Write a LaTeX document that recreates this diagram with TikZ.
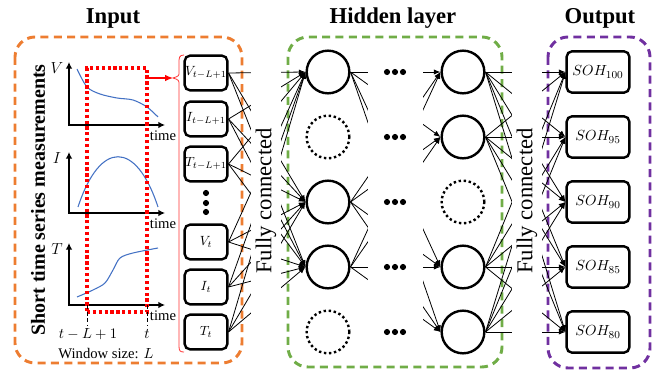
\documentclass[tikz,border=0pt]{standalone}
\usepackage{amsmath}
\usepackage{fontspec}
\setmainfont{Liberation Serif}
\usetikzlibrary{arrows.meta, positioning, calc}
\definecolor{frameorange}{RGB}{237,125,49}
\definecolor{framegreen}{RGB}{112,173,71}
\definecolor{framepurple}{RGB}{112,48,160}
\definecolor{curveblue}{RGB}{68,114,196}

\begin{document}
\begin{tikzpicture}[x=0.75pt, y=-0.75pt,
    every node/.style={font=\fontsize{11}{13}\selectfont},
    ttl/.style={font=\fontsize{17}{20}\selectfont\bfseries},
    frame/.style={line width=2.2pt, rounded corners=15pt, dash pattern=on 6pt off 4pt},
    inbox/.style={draw, rounded corners=4pt, line width=1.8pt, minimum width=32pt, minimum height=26pt, inner sep=0pt, font=\fontsize{10}{12}\selectfont},
    outbox/.style={inbox, minimum width=47pt, minimum height=31pt, font=\fontsize{11}{13}\selectfont},
    nrn/.style={circle, draw, line width=1.8pt, minimum size=32pt, inner sep=0pt},
    drop/.style={nrn, dotted},
    lnk/.style={-{Latex[length=5pt, width=4pt]}, line width=0.6pt},
    ax/.style={line width=1pt, {Latex[length=5pt, width=5pt]}-{Latex[length=5pt, width=5pt]}},
    mask/.style={fill=white, rotate=90, minimum width=230pt, minimum height=23pt, inner sep=0pt, font=\fontsize{17}{20}\selectfont}
]
\useasboundingbox (0,0) rectangle (657,373);

% titles and frames
\node[ttl] (tin) at (113,18) {Input};
\node[ttl] (thid) at (393,18) {Hidden layer};
\node[ttl] (tout) at (600,18) {Output};
\draw[frame, frameorange] (15,37) rectangle (242,363);
\draw[frame, framegreen] (288,37) rectangle (502,367);
\draw[frame, framepurple] (548,37) rectangle (650,368);

\node[font=\fontsize{15}{18}\selectfont\bfseries, rotate=90] (smeas) at (38,200) {Short time series measurements};

% measurement plots
\foreach \yo/\yt/\lbl in {125/62/V, 213/152/I, 305/243/T}{
    \draw[ax] (69,\yt) -- (69,\yo) -- (165,\yo);
    \node at (57,\yt+6) {\fontsize{12}{14}\selectfont$\lbl$};
    \node at (163,\yo+11) {time};
}
\draw[curveblue, line width=0.8pt] plot[smooth] coordinates {(77,69) (87,87) (100,94) (117,98) (133,100) (147,107) (158,117)};
\draw[curveblue, line width=0.8pt] (78,207) .. controls (100,140) and (136,140) .. (158,207);
\draw[curveblue, line width=0.8pt] plot[smooth] coordinates {(77,297) (93,290) (105,283) (113,270) (120,258) (133,253) (158,248)};

% sliding window
\node (win) [draw=red, line width=2.4pt, dash pattern=on 2.4pt off 2pt, minimum width=45pt, minimum height=183pt, inner sep=0pt] at (117,190) {};
\draw[densely dashed, thin] (87,305) -- (87,326);
\draw[densely dashed, thin] (147,305) -- (147,326);
\node (tlo) at (88,334) {$t-L+1$};
\node (thi) at (147,334) {$t$};
\node (wsize) at (106,354) {Window size: $L$};

% brace
\coordinate (btip) at (173,78);
\draw[red, line width=1pt, -{Latex[length=6pt, width=5pt]}] (win.east |- btip) -- (btip);
\draw[red!80, line width=0.6pt] (184,55) .. controls (179,55) and (179,58) .. (179,63) -- (179,72)
    .. controls (179,76) .. (btip) .. controls (179,80) .. (179,85) -- (179,346)
    .. controls (179,351) and (180,352) .. (184,352);

% input boxes
\foreach \y/\nm/\lbl in {73/x1/{V_{t-L+1}}, 119/x2/{I_{t-L+1}}, 164/x3/{T_{t-L+1}}, 242/x4/{V_t}, 287/x5/{I_t}, 332/x6/{T_t}}{
    \node[inbox] (\nm) at (206,\y) {$\lbl$};
}
\foreach \y in {193,203,212}{
    \fill (206,\y) circle (2.3pt);
}

% hidden neurons
\foreach \r/\y in {1/72, 3/202, 4/267}{
    \node[nrn] (p\r) at (328,\y) {};
}
\foreach \r/\y in {2/137, 5/332}{
    \node[drop] (p\r) at (328,\y) {};
}
\foreach \r/\y in {1/72, 2/137, 4/267, 5/332}{
    \node[nrn] (q\r) at (463,\y) {};
}
\node[drop] (q3) at (463,202) {};

% outputs
\foreach \r/\y/\val in {1/72/100, 2/137/95, 3/202/90, 4/267/85, 5/332/80}{
    \node[outbox] (o\r) at (598,\y) {$SOH_{\val}$};
}

% connections
\foreach \a in {x1,x2,x3,x4,x5,x6}{
    \foreach \b in {1,3,4}{
        \draw[lnk] (\a.east) -- (p\b.west);
    }
}
\foreach \a in {1,3,4}{
    \foreach \b in {1,2,4,5}{
        \draw[lnk] (p\a.east) -- (q\b.west);
    }
}
\foreach \a in {1,2,4,5}{
    \foreach \b in {1,...,5}{
        \draw[lnk] (q\a.east) -- (o\b.west);
    }
}

% gaps over the links
\node[mask] (fc1) at (266,201) {Fully connected};
\node[mask] (fc2) at (527,201) {Fully connected};
\fill[white] (368,50) rectangle (423,355);
\foreach \y in {72,137,202,267,332}{
    \foreach \dx in {-8,0,8}{
        \fill (395+\dx,\y) circle (2.3pt);
    }
}
\end{tikzpicture}
\end{document}
